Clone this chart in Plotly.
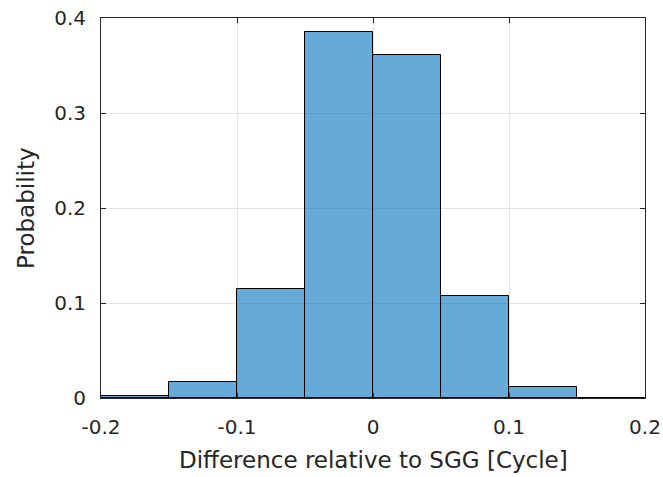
import plotly.graph_objects as go

bin_edges = [-0.2, -0.15, -0.1, -0.05, 0.0, 0.05, 0.1, 0.15, 0.2]
probability = [0.002, 0.0165, 0.115, 0.3855, 0.3615, 0.1075, 0.0115, 0.0005]
x_ticks = [-0.2, -0.1, 0, 0.1, 0.2]
x_ticklabels = ["-0.2", "-0.1", "0", "0.1", "0.2"]
y_ticks = [0, 0.1, 0.2, 0.3, 0.4]
y_ticklabels = ["0", "0.1", "0.2", "0.3", "0.4"]

centers = [(a + b) / 2 for a, b in zip(bin_edges[:-1], bin_edges[1:])]
widths = [b - a for a, b in zip(bin_edges[:-1], bin_edges[1:])]

font = "DejaVu Sans, Liberation Sans, Arial, sans-serif"
txt = "#262626"

fig = go.Figure(go.Bar(
    x=centers, y=probability, width=widths,
    marker=dict(color="rgba(0,114,189,0.6)", line=dict(color="#000000", width=1)),
    hoverinfo="x+y",
))

axis_common = dict(
    showline=True, linecolor=txt, linewidth=1, mirror="ticks",
    ticks="inside", ticklen=5, tickcolor=txt, tickwidth=1,
    showgrid=True, gridcolor="#e3e3e3", gridwidth=1,
    zeroline=False, automargin=False, ticklabeloverflow="allow",
    tickfont=dict(family=font, size=20, color=txt),
)

fig.update_layout(
    width=663, height=477,
    margin=dict(l=101, r=18, t=18, b=79),
    paper_bgcolor="white", plot_bgcolor="white",
    showlegend=False, bargap=0,
    xaxis=dict(range=[-0.2, 0.2], tickvals=x_ticks, ticktext=x_ticklabels,
               ticklabelstandoff=11, **axis_common),
    yaxis=dict(range=[0, 0.4], tickvals=y_ticks, ticktext=y_ticklabels,
               ticklabelstandoff=10, **axis_common),
    annotations=[
        dict(text="Difference relative to SGG [Cycle]", xref="paper", yref="paper",
             x=0.5, y=0, yshift=-62, xanchor="center", yanchor="middle", showarrow=False,
             font=dict(family=font, size=23, color=txt)),
        dict(text="Probability", xref="paper", yref="paper",
             x=0, y=0.5, xshift=-75, xanchor="center", yanchor="middle", showarrow=False,
             textangle=-90, font=dict(family=font, size=23, color=txt)),
    ],
)

# remove the default 8px page margin so the figure fills the window exactly
fig.write_html("out.html",
               config={"displayModeBar": False},
               post_script="document.body.style.margin='0';document.body.style.overflow='hidden';")
